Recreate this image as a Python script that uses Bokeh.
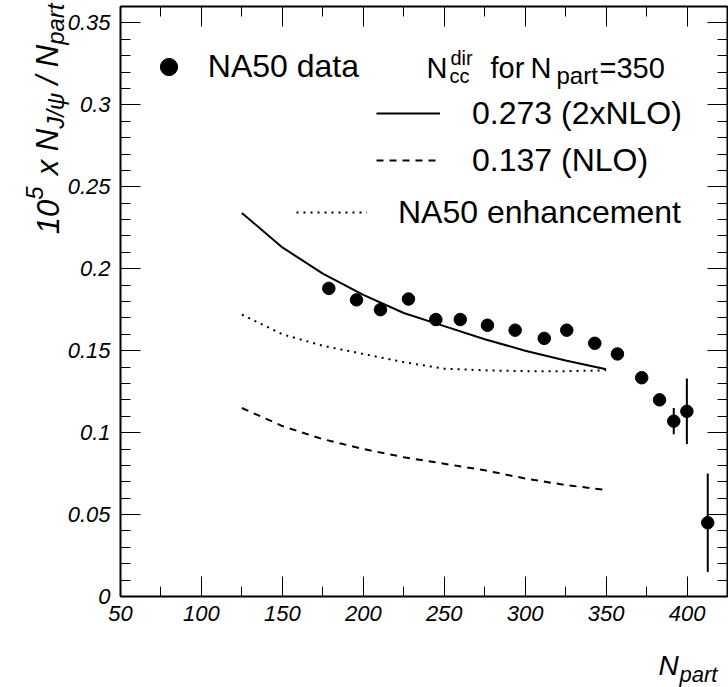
import math
from bokeh.plotting import figure
from bokeh.models import (Range1d, LinearAxis, FixedTicker, CustomJSTickFormatter,
                          Label, Legend, LegendItem, ColumnDataSource)
from bokeh.embed import file_html
from bokeh.resources import INLINE

# ---------------- data ----------------
npart = [178.7, 195.8, 210.6, 227.9, 244.8, 259.9, 276.7, 293.8, 311.8,
         325.7, 343.0, 357.0, 372.0, 383.0, 391.8, 399.9, 412.8]
jpsi = [0.188, 0.181, 0.175, 0.1815, 0.169, 0.169, 0.1655, 0.1625, 0.1575,
        0.1625, 0.1545, 0.148, 0.1335, 0.120, 0.107, 0.113, 0.045]
jpsi_err = [0.003, 0.003, 0.003, 0.003, 0.003, 0.003, 0.003, 0.003, 0.003,
            0.003, 0.003, 0.003, 0.003, 0.003, 0.008, 0.020, 0.030]

curve_x = [125, 150, 175, 200, 225, 250, 275, 300, 325, 350]
nlo2 = [0.234, 0.213, 0.197, 0.184, 0.173, 0.165, 0.157, 0.150, 0.144, 0.1386]
nlo = [0.115, 0.104, 0.096, 0.090, 0.085, 0.081, 0.077, 0.072, 0.068, 0.065]
enh = [0.172, 0.160, 0.153, 0.148, 0.143, 0.139, 0.138, 0.1375, 0.1375, 0.138]

x_major = [50, 100, 150, 200, 250, 300, 350, 400]
x_minor = [75, 125, 175, 225, 275, 325, 375, 425]
y_major = [0, 0.05, 0.1, 0.15, 0.2, 0.25, 0.3, 0.35]
y_minor = [i / 100 for i in range(0, 37)]
X_LO, X_HI = 50, 425
Y_LO, Y_HI = 0, 0.36

# ---------------- layout (canvas px) ----------------
W, H = 728, 687
FL, FR, FT, FB = 120, 727, 6, 596   # where the drawn axes box sits
xs = (FR - FL) / (X_HI - X_LO)
ys = (FB - FT) / (Y_HI - Y_LO)
FONT = "Liberation Sans"

# the plotting frame fills the whole canvas; axes are pinned at the box edges
p = figure(width=W, height=H,
           x_range=Range1d(X_LO - FL / xs, X_HI + (W - FR) / xs),
           y_range=Range1d(Y_LO - (H - FB) / ys, Y_HI + FT / ys),
           output_backend="svg", toolbar_location=None,
           x_axis_location=None, y_axis_location=None,
           min_border=0, min_border_left=0, min_border_right=0,
           min_border_top=0, min_border_bottom=0)
for g in p.grid:
    g.visible = False
p.background_fill_color = "white"
p.border_fill_color = "white"
p.outline_line_color = None


def make_axis(ticks, minor, loc, bounds, formatter=None, labels=True):
    ax = LinearAxis(ticker=FixedTicker(ticks=ticks, minor_ticks=minor),
                    fixed_location=loc, bounds=bounds,
                    major_tick_in=20, major_tick_out=0,
                    minor_tick_in=10, minor_tick_out=0,
                    major_tick_line_color="black", minor_tick_line_color="black",
                    major_tick_line_width=1, minor_tick_line_width=1,
                    axis_line_color="black", axis_line_width=2)
    if formatter is not None:
        ax.formatter = formatter
    if labels:
        ax.major_label_text_font = FONT
        ax.major_label_text_font_style = "italic"
        ax.major_label_text_font_size = "22px"
        ax.major_label_text_color = "black"
    else:
        ax.formatter = CustomJSTickFormatter(code="return ''")
        ax.major_label_text_font_size = "1px"
        ax.major_label_standoff = 0
    return ax


xb = make_axis(x_major, x_minor, Y_LO, (X_LO, X_HI))
xb.major_label_standoff = 9
p.add_layout(xb, "below")
yl = make_axis(y_major, y_minor, X_LO, (Y_LO, Y_HI),
               CustomJSTickFormatter(code="return String(Math.round(tick*100)/100)"))
yl.major_label_standoff = 10
p.add_layout(yl, "left")
p.add_layout(make_axis(x_major, x_minor, Y_HI, (X_LO, X_HI), labels=False), "above")
p.add_layout(make_axis(y_major, y_minor, X_HI, (Y_LO, Y_HI), labels=False), "right")

# ---------------- glyphs ----------------
src = ColumnDataSource(dict(
    x=npart, y=jpsi,
    lo=[v - e for v, e in zip(jpsi, jpsi_err)],
    hi=[v + e for v, e in zip(jpsi, jpsi_err)]))

r_solid = p.line(curve_x, nlo2, line_color="black", line_width=2)
r_dash = p.line(curve_x, nlo, line_color="black", line_width=2, line_dash="7 6")
r_dot = p.line(curve_x, enh, line_color="black", line_width=2, line_dash="2 5")
p.segment(x0="x", y0="lo", x1="x", y1="hi", source=src, line_color="black", line_width=2)
r_pts = p.scatter("x", "y", source=src, marker="circle", size=12.5,
                  fill_color="black", line_color="black")

# ---------------- legends ----------------
common = dict(padding=0, margin=0, background_fill_alpha=0, border_line_alpha=0,
              label_text_font=FONT, label_text_font_size="32px",
              label_text_color="black")
leg1 = Legend(items=[LegendItem(label="NA50 data", renderers=[r_pts])],
              location=(146.8, H - 88.2), glyph_width=43, glyph_height=43,
              label_height=43, label_standoff=18, spacing=0, **common)
leg2 = Legend(items=[LegendItem(label="0.273 (2xNLO)", renderers=[r_solid]),
                     LegendItem(label="0.137 (NLO)", renderers=[r_dash])],
              location=(376, H - 180), glyph_width=64, glyph_height=40,
              label_height=40, label_standoff=32, spacing=7, **common)
leg3 = Legend(items=[LegendItem(label="NA50 enhancement", renderers=[r_dot])],
              location=(296, H - 232), glyph_width=71, glyph_height=40,
              label_height=40, label_standoff=31, spacing=0, **common)
for lg in (leg1, leg2, leg3):
    p.add_layout(lg, "center")


def lab(text, X, Y, size, style="normal", angle=0.0, align="left"):
    p.add_layout(Label(x=X, y=H - Y, x_units="screen", y_units="screen",
                       text=text, text_font=FONT, text_font_size=f"{size}px",
                       text_font_style=style, text_color="black", angle=angle,
                       text_align=align, text_baseline="alphabetic"))


# legend header: N_cc^dir  for N_part=350
lab("N", 426, 67, 29)
lab("dir", 450, 57, 20)
lab("cc", 449, 75, 20)
lab("for", 490, 67, 29)
lab("N", 530, 67, 29)
lab("part", 556, 75, 24)
lab("=350", 599, 67, 29)

# x-axis title  N_part
lab("N", 658, 665, 28, "italic")
lab("part", 679, 674, 22, "italic")

# y-axis title  10^5 x N_J/psi / N_part  (rotated, reading upwards)
MS, SS = 31, 24           # main and sub/superscript font sizes
em_w = {"1": 0.556, "0": 0.556, "5": 0.556, "x": 0.5, "N": 0.722, "J": 0.5,
        "/": 0.278, "\u03c8": 0.712, "p": 0.556, "a": 0.556, "r": 0.333,
        "t": 0.278, " ": 0.278}


def adv(s, size):
    return sum(em_w[c] for c in s) * size


base_x = 47
pieces = [("10", MS, 0, adv("10", MS)),
          ("5", SS, -13, adv("5 ", SS) + adv(" ", MS) * 0.5),
          ("x", MS, 0, adv("x ", MS)),
          ("N", MS, 0, adv("N", MS)),
          ("J/\u03c8", SS, 8, adv("J/\u03c8", SS) + adv(" ", MS)),
          ("/", MS, 0, adv("/ ", MS)),
          ("N", MS, 0, adv("N", MS)),
          ("part", SS, 8, adv("part", SS))]
total = sum(pc[3] for pc in pieces)
pos = 3 + total
for text, size, shift, a in pieces:
    lab(text, base_x + shift, pos, size, "italic", angle=math.pi / 2)
    pos -= a

open("out.html", "w").write(file_html(p, INLINE))
